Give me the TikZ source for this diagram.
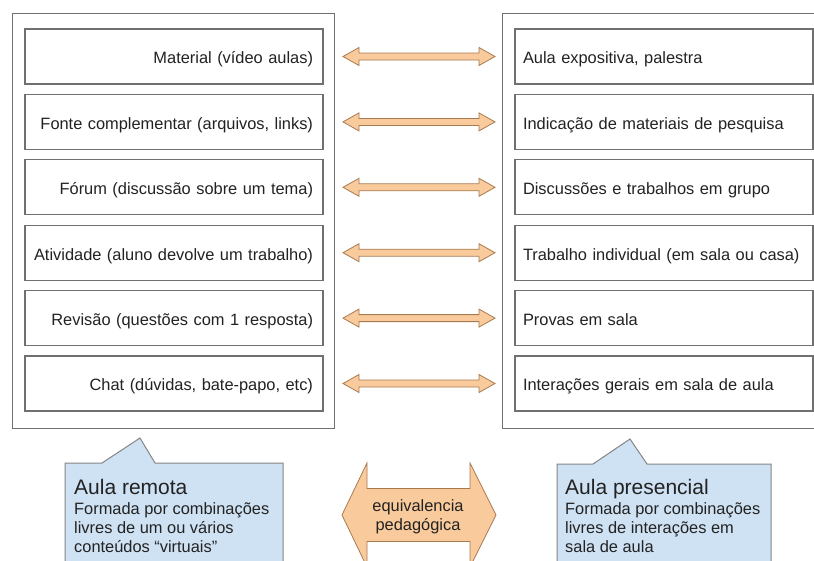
\documentclass[tikz,border=0pt]{standalone}
\usepackage{fontspec}
\setmainfont{Liberation Sans}
\usetikzlibrary{calc}
\definecolor{boxline}{HTML}{707070}
\definecolor{txt}{HTML}{222222}
\definecolor{arrfill}{HTML}{F9CB9C}
\definecolor{arrline}{HTML}{A87A50}
\definecolor{callfill}{HTML}{CFE2F3}
\definecolor{callline}{HTML}{858585}
\newcommand\lefttext[1]{\makebox[278pt][r]{#1}}
\newcommand\righttext[1]{\makebox[282pt][l]{#1}}
\tikzset{
  outerbox/.style={draw=boxline, line width=1.2pt, minimum width=322pt, minimum height=415pt, anchor=north west, inner sep=0pt},
  litem/.style={draw=boxline, line width=1.2pt, minimum height=55pt, text width=278pt, align=left, inner xsep=10pt, inner ysep=0pt, text height=14.8pt, text depth=0pt, text=txt, font=\fontsize{16.4}{19}\selectfont},
  ritem/.style={draw=boxline, line width=1.2pt, minimum height=55pt, text width=282pt, align=left, inner xsep=8pt, inner ysep=0pt, text height=14.8pt, text depth=0pt, text=txt, font=\fontsize{16.4}{19}\selectfont},
  arrowshape/.style={fill=arrfill, draw=arrline, line width=0.8pt, line join=miter},
  callout/.style={fill=callfill, draw=callline, line width=1pt},
  ctitle/.style={anchor=base west, inner sep=0pt, text=txt, font=\fontsize{21}{24}\selectfont},
  cbody/.style={anchor=base west, inner sep=0pt, text=txt, font=\fontsize{16.4}{19}\selectfont},
  dblarr/.pic={
    \filldraw[arrowshape] (-76,0) -- (-60,-9) -- (-60,-3.5) -- (60,-3.5) -- (60,-9) -- (76,0)
      -- (60,9) -- (60,3.5) -- (-60,3.5) -- (-60,9) -- cycle;
  },
  bigarr/.pic={
    \filldraw[arrowshape] (-77,0) -- (-52,-52) -- (-52,-26.5) -- (51,-26.5) -- (51,-52) -- (77,0)
      -- (51,52) -- (51,26.5) -- (-52,26.5) -- (-52,52) -- cycle;
  }
}
\begin{document}
\begin{tikzpicture}[x=1pt,y=-1pt]
\useasboundingbox (0,0) rectangle (814,560);
\clip (0,0) rectangle (814,560);
\fill[white] (0,0) rectangle (814,560);

% outer containers
\node[outerbox] (LO) at (12,13) {};
\node[outerbox, minimum width=320pt] (RO) at (502,13) {};

% left items
\node[litem] (L1) at (174,56.5) {\lefttext{Material (vídeo aulas)}};
\node[litem] (L2) at (174,121.9) {\lefttext{Fonte complementar (arquivos, links)}};
\node[litem] (L3) at (174,187.3) {\lefttext{Fórum (discussão sobre um tema)}};
\node[litem] (L4) at (174,252.7) {\lefttext{Atividade (aluno devolve um trabalho)}};
\node[litem] (L5) at (174,318.1) {\lefttext{Revisão (questões com 1 resposta)}};
\node[litem] (L6) at (174,383.5) {\lefttext{Chat (dúvidas, bate-papo, etc)}};

% right items
\node[ritem] (R1) at (664,56.5) {\righttext{Aula expositiva, palestra}};
\node[ritem] (R2) at (664,121.9) {\righttext{Indicação de materiais de pesquisa}};
\node[ritem] (R3) at (664,187.3) {\righttext{Discussões e trabalhos em grupo}};
\node[ritem] (R4) at (664,252.7) {\righttext{Trabalho individual (em sala ou casa)}};
\node[ritem] (R5) at (664,318.1) {\righttext{Provas em sala}};
\node[ritem] (R6) at (664,383.5) {\righttext{Interações gerais em sala de aula}};

% double arrows between pairs
\pic (A1) at ($(L1.east)!0.5!(R1.west)$) {dblarr};
\pic (A2) at ($(L2.east)!0.5!(R2.west)$) {dblarr};
\pic (A3) at ($(L3.east)!0.5!(R3.west)$) {dblarr};
\pic (A4) at ($(L4.east)!0.5!(R4.west)$) {dblarr};
\pic (A5) at ($(L5.east)!0.5!(R5.west)$) {dblarr};
\pic (A6) at ($(L6.east)!0.5!(R6.west)$) {dblarr};

% callouts
\filldraw[callout] (65,580) -- (65,463) -- (102,463) -- (140,438) -- (155,463) -- (283,463) -- (283,580);
\node[ctitle] (CLt) at (74,494) {Aula remota};
\node[cbody] (CL1) at (74,514) {Formada por combinações};
\node[cbody] (CL2) at (74,533.5) {livres de um ou vários};
\node[cbody] (CL3) at (74,552.5) {conteúdos “virtuais”};

\filldraw[callout] (557,580) -- (557,464) -- (593,464) -- (630,439) -- (647,464) -- (771,464) -- (771,580);
\node[ctitle] (CRt) at (565,494) {Aula presencial};
\node[cbody] (CR1) at (565,514) {Formada por combinações};
\node[cbody] (CR2) at (565,533.5) {livres de interações em};
\node[cbody] (CR3) at (565,552.5) {sala de aula};

% central equivalence arrow
\pic (EQA) at (419,515) {bigarr};
\node[align=center, inner sep=0pt, text=txt, font=\fontsize{16.4}{19}\selectfont] (EQ) at (418,517) {equivalencia\\pedagógica};
\end{tikzpicture}
\end{document}
